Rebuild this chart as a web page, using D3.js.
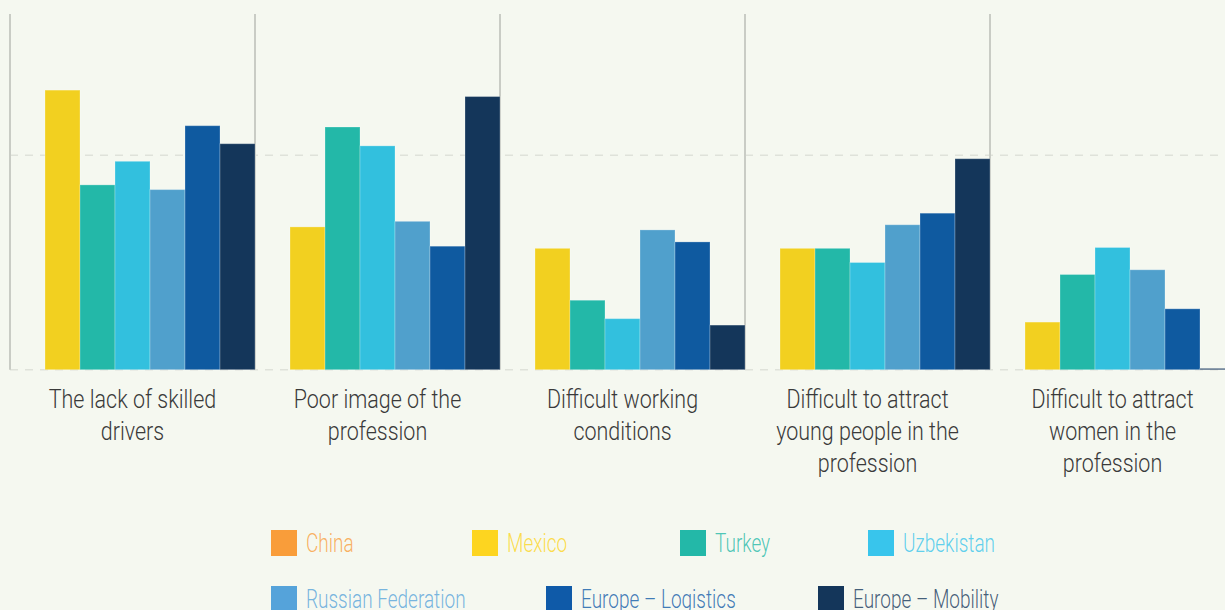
<!DOCTYPE html>
<html>

<head>
	<title>Driver shortage chart</title>
	<meta charset="utf-8" />
	<script src="https://d3js.org/d3.v7.min.js"></script>
	<style>
		body,
		html {
			margin: 0;
			width: 100%;
			height: 100%;
			background: #f5f8f0;
			overflow: hidden;
		}

		text {
			font-family: Roboto, "Open Sans", sans-serif;
			font-weight: 300;
		}
	</style>
</head>

<body>
	<svg id="chart" width="1225" height="610"></svg>
	<script>
		// categories, one line per row of the label
		var categories = [
			["The lack of skilled", "drivers"],
			["Poor image of the", "profession"],
			["Difficult working", "conditions"],
			["Difficult to attract", "young people in the", "profession"],
			["Difficult to attract", "women in the", "profession"]
		];

		var series = ["China", "Mexico", "Turkey", "Uzbekistan", "Russian Federation", "Europe – Logistics", "Europe – Mobility"];

		var colors = ["#f99d3a", "#f2d020", "#23b8a8", "#32c0de", "#50a0cc", "#0f5aa0", "#14365a"];
		var legendColors = ["#f99d3a", "#fdd520", "#23b8a8", "#38c5ec", "#55a3da", "#0f5aa8", "#14365a"];

		// % of respondents (China has no bars)
		var china = [0, 0, 0, 0, 0];
		var mexico = [65.2, 33.3, 28.3, 28.3, 11.1];
		var turkey = [43.1, 56.6, 16.2, 28.3, 22.2];
		var uzbekistan = [48.6, 52.2, 11.9, 25.0, 28.5];
		var russia = [42.0, 34.6, 32.6, 33.8, 23.3];
		var euLogistics = [56.9, 28.8, 29.8, 36.5, 14.2];
		var euMobility = [52.7, 63.7, 10.4, 49.2, 0.3];

		var values = [china, mexico, turkey, uzbekistan, russia, euLogistics, euMobility];

		var yTicks = [0, 50];

		// narrow look of the original font
		var labelSqueeze = 0.86;
		var legendSqueeze = 0.76;

		var svg = d3.select("#chart");

		var catNames = categories.map(function (c) { return c.join(" "); });

		var x0 = d3.scaleBand()
			.domain(catNames)
			.range([10, 1235])
			.padding(0);

		var x1 = d3.scaleBand()
			.domain(series)
			.range([0, x0.bandwidth()])
			.padding(0);

		var y = d3.scaleLinear()
			.domain([0, 100])
			.range([369.7, -59.1]);

		var color = d3.scaleOrdinal().domain(series).range(colors);

		// dashed grid lines
		svg.append("g")
			.selectAll("line")
			.data(yTicks)
			.enter()
			.append("line")
			.attr("x1", 10)
			.attr("x2", 1225)
			.attr("y1", function (d) { return y(d); })
			.attr("y2", function (d) { return y(d); })
			.attr("stroke", "#dfe2da")
			.attr("stroke-width", 1.5)
			.attr("stroke-dasharray", "8,7");

		// vertical separators between categories
		svg.append("g")
			.selectAll("line")
			.data(catNames)
			.enter()
			.append("line")
			.attr("x1", function (d) { return x0(d); })
			.attr("x2", function (d) { return x0(d); })
			.attr("y1", 14)
			.attr("y2", y(0))
			.attr("stroke", "#c9ccc5")
			.attr("stroke-width", 2);

		// bars
		var groups = svg.append("g")
			.selectAll("g")
			.data(catNames)
			.enter()
			.append("g")
			.attr("transform", function (d) { return "translate(" + x0(d) + ",0)"; });

		groups.selectAll("rect")
			.data(function (d, i) {
				return series.map(function (s, j) { return { key: s, value: values[j][i] }; });
			})
			.enter()
			.filter(function (d) { return d.value > 0; })
			.append("rect")
			.attr("x", function (d) { return x1(d.key); })
			.attr("width", x1.bandwidth())
			.attr("y", function (d) { return y(d.value); })
			.attr("height", function (d) { return y(0) - y(d.value); })
			.attr("fill", function (d) { return color(d.key); })
			.attr("stroke", "rgba(255,255,255,0.25)")
			.attr("stroke-width", 1);

		// category labels
		var labels = svg.append("g")
			.selectAll("text")
			.data(categories)
			.enter()
			.append("text")
			.attr("text-anchor", "middle")
			.attr("transform", function (d, i) {
				return "translate(" + (x0(catNames[i]) + x0.bandwidth() / 2) + ",408) scale(" + labelSqueeze + ",1)";
			})
			.attr("fill", "#3a3a3a")
			.style("font-size", "25px");

		labels.selectAll("tspan")
			.data(function (d) { return d; })
			.enter()
			.append("tspan")
			.attr("x", 0)
			.attr("dy", function (d, i) { return i === 0 ? 0 : 32; })
			.text(function (d) { return d; });

		// legend, two rows
		var legendRows = [[0, 1, 2, 3], [4, 5, 6]];
		var legendX = [[271, 472, 680, 868], [271, 546, 818]];
		var legendY = [530, 586];

		legendRows.forEach(function (row, r) {
			var items = svg.append("g")
				.selectAll("g")
				.data(row)
				.enter()
				.append("g")
				.attr("transform", function (d, i) { return "translate(" + legendX[r][i] + "," + legendY[r] + ")"; });

			items.append("rect")
				.attr("width", 26)
				.attr("height", 26)
				.attr("fill", function (d) { return legendColors[d]; });

			items.append("text")
				.attr("transform", "translate(35,22) scale(" + legendSqueeze + ",1)")
				.attr("fill", function (d) { return legendColors[d]; })
				.attr("fill-opacity", 0.8)
				.style("font-size", "25px")
				.text(function (d) { return series[d]; });
		});
	</script>
</body>

</html>
